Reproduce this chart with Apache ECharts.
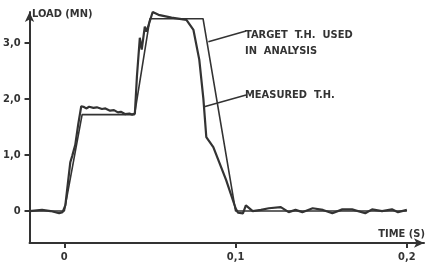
<!DOCTYPE html>
<html>
<head>
<meta charset="utf-8">
<script src="https://cdn.jsdelivr.net/npm/echarts@6.0.0/dist/echarts.min.js"></script>
</head>
<body style="margin:0;background:#fff">
<div id="container" style="width:425px;height:265px"></div>
<script>
// time (s) / load (MN)
var measuredT = [-0.0203, -0.013, -0.008, -0.003, -0.001, 0.0006, 0.0023, 0.0035, 0.0046, 0.0052, 0.0064, 0.0081, 0.0099,
    0.0112, 0.0128, 0.0145, 0.017, 0.019, 0.022, 0.024, 0.0267, 0.029, 0.0313, 0.033, 0.0354, 0.038, 0.0394, 0.0412,
    0.0424, 0.0441, 0.0452, 0.047, 0.048, 0.0516, 0.055, 0.0626, 0.0713, 0.0754, 0.0788, 0.0812, 0.0829, 0.087, 0.0945,
    0.1, 0.1014, 0.1043, 0.106, 0.11, 0.1148, 0.1194, 0.1264, 0.131, 0.135, 0.139, 0.145, 0.151, 0.1565, 0.1623, 0.168,
    0.1757, 0.1797, 0.1855, 0.1913, 0.1948, 0.2];
var measuredLoad = [0, 0.02, 0, -0.04, -0.02, 0.1, 0.55, 0.87, 0.98, 0.95, 1.18, 1.54, 1.87,
    1.86, 1.83, 1.86, 1.84, 1.85, 1.82, 1.83, 1.79, 1.8, 1.76, 1.77, 1.73, 1.74, 1.72, 1.74,
    2.4, 3.09, 2.88, 3.29, 3.2, 3.55, 3.5, 3.45, 3.41, 3.23, 2.7, 2.0, 1.32, 1.14, 0.55,
    0.05, -0.03, -0.04, 0.1, 0, 0.02, 0.05, 0.07, -0.02, 0.02, -0.02, 0.05, 0.02, -0.04, 0.03, 0.03,
    -0.04, 0.03, 0, 0.03, -0.02, 0.02];
var targetT = [-0.0203, 0, 0.0104, 0.041, 0.05, 0.081, 0.1, 0.2];
var targetLoad = [0, 0, 1.72, 1.72, 3.43, 3.43, 0, 0];

var xTickValues = [0, 0.1, 0.2];
var xTickLabels = ['0', '0,1', '0,2'];
var yTickValues = [0, 1, 2, 3];
var yTickLabels = ['0', '1,0', '2,0', '3,0'];

var ink = '#333';
var font = '"DejaVu Sans Condensed", "DejaVu Sans", sans-serif';

function pairs(xs, ys) {
    var out = [];
    for (var i = 0; i < xs.length; i++) out.push([xs[i], ys[i]]);
    return out;
}

var myChart = echarts.init(document.getElementById('container'), null, {renderer: 'canvas'});

var option = {
    backgroundColor: '#fff',
    animation: false,
    grid: {left: 27, right: 1, top: 12, bottom: 22},
    xAxis: {
        type: 'value',
        min: -0.0203,
        max: 0.21,
        axisLine: {onZero: false, symbol: ['none', 'arrow'], symbolSize: [7, 10], lineStyle: {color: ink, width: 2}},
        axisTick: {customValues: xTickValues, length: 5, lineStyle: {color: ink, width: 2}},
        axisLabel: {
            customValues: xTickValues, margin: 9, color: ink, fontFamily: font, fontWeight: 'bold', fontSize: 11,
            formatter: function (v) { return xTickLabels[xTickValues.indexOf(v)]; }
        },
        splitLine: {show: false}
    },
    yAxis: {
        type: 'value',
        min: -0.57,
        max: 3.55,
        axisLine: {show: true, onZero: false, symbol: ['none', 'arrow'], symbolSize: [7, 10], lineStyle: {color: ink, width: 2}},
        axisTick: {show: true, customValues: yTickValues, length: 5, lineStyle: {color: ink, width: 2}},
        axisLabel: {
            customValues: yTickValues, margin: 9, color: ink, fontFamily: font, fontWeight: 'bold', fontSize: 11,
            formatter: function (v) { return yTickLabels[yTickValues.indexOf(v)]; }
        },
        splitLine: {show: false}
    },
    graphic: [
        {type: 'text', left: 32, top: 9, style: {text: 'LOAD (MN)', fill: ink, font: 'bold 11px ' + font}},
        {type: 'text', right: 0, top: 229, style: {text: 'TIME (S)', fill: ink, font: 'bold 11px ' + font}},
        {type: 'text', left: 245, top: 27, style: {text: 'TARGET  T.H.  USED\nIN  ANALYSIS', fill: ink, font: 'bold 11px ' + font, lineHeight: 16}},
        {type: 'text', left: 245, top: 90, style: {text: 'MEASURED  T.H.', fill: ink, font: 'bold 11px ' + font}}
    ],
    series: [
        {
            name: 'target',
            type: 'line',
            data: pairs(targetT, targetLoad),
            showSymbol: false,
            lineStyle: {color: ink, width: 1.6},
            markLine: {
                silent: true, symbol: 'none', label: {show: false},
                lineStyle: {color: ink, width: 1.5, type: 'solid'},
                data: [
                    [{coord: [0.0841, 3.02]}, {coord: [0.1061, 3.21]}],
                    [{coord: [0.0817, 1.86]}, {coord: [0.1061, 2.07]}]
                ]
            },
            z: 2
        },
        {
            name: 'measured',
            type: 'line',
            data: pairs(measuredT, measuredLoad),
            showSymbol: false,
            lineStyle: {color: ink, width: 2.2},
            z: 3
        }
    ]
};

myChart.setOption(option);
window.addEventListener('resize', myChart.resize);
</script>
</body>
</html>
